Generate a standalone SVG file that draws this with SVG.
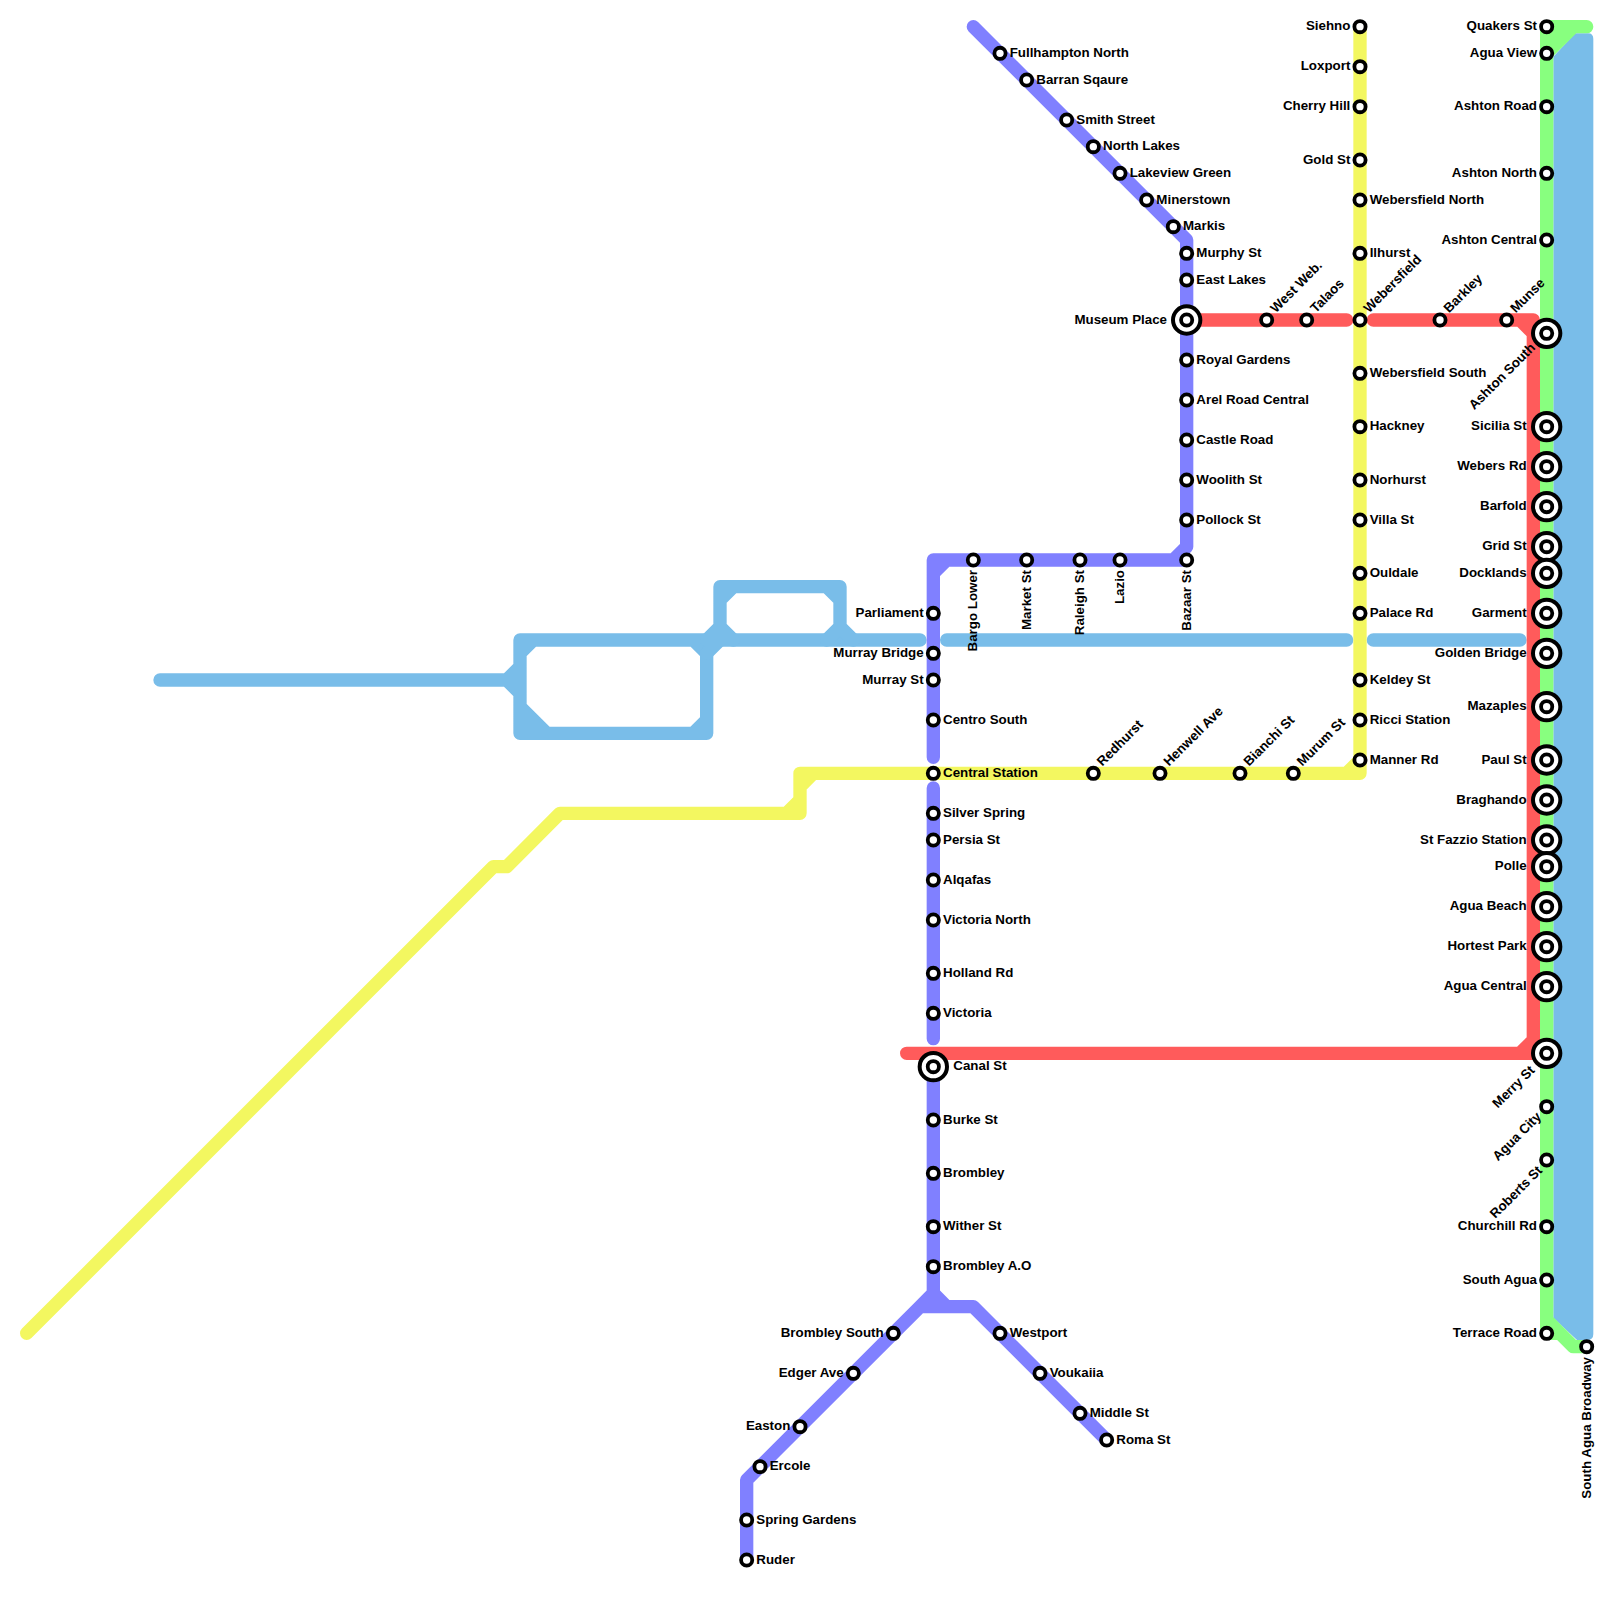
<svg xmlns="http://www.w3.org/2000/svg" width="1600" height="1600" viewBox="0 0 1600 1600">
<style>
.l{fill:none;stroke-width:13.33;stroke-linecap:round;stroke-linejoin:round}
.blue{stroke:#79bde9}.green{stroke:#88ff7f}.red{stroke:#ff5b5b}.purple{stroke:#8080ff}.yellow{stroke:#f3f760}
.s{fill:#fff;stroke:#000;stroke-width:3.8}
.x{fill:#fff;stroke:#000;stroke-width:4}
text{font-family:"Liberation Sans",Arial,sans-serif;font-weight:700;font-size:13.33px;fill:#000}
.e{text-anchor:end}
</style>
<rect width="1600" height="1600" fill="#fff"/>
<g id="connectors">
<g id="line-blue">
<path d="M1553.33 56.67L1575 33.33H1588Q1593.33 33.33 1593.33 39V1334Q1593.33 1340 1587 1340H1577L1553.33 1318Z" fill="#79bde9"/>
<path class="l blue" d="M160 680H506.67L520 666.67M506.67 680L520 693.33M520 640V733.33H706.67V640M520 640H920M520 653.33L533.33 640M693.33 640L706.67 653.33M693.33 733.33L706.67 720M520 706.67L546.67 733.33M520 720L533.33 733.33"/>
<path class="l blue" d="M706.67 640L720 626.67V586.67H840V626.67L853.33 640M720 600L733.33 586.67M826.67 586.67L840 600M720 626.67L733.33 640M706.67 653.33L720 640M826.67 640L840 626.67"/>
<path class="l blue" d="M946.67 640H1346.67M1373.33 640H1520"/>
</g>
<g id="line-green">
<path class="l green" d="M1586.67 26.67H1546.67V1333.33H1560L1573.33 1346.67H1586.67M1546.67 53.33L1573.33 26.67M1546.67 40L1560 26.67M1546.67 1320L1573.33 1346.67"/>
</g>
<g id="line-red">
<path class="l red" d="M1200 320H1346.67M1373.33 320H1533.33V1053.33H906.67M1520 320L1533.33 333.33M1520 1053.33L1533.33 1040"/>
</g>
<g id="line-purple">
<path class="l purple" d="M973.33 26.67L1186.67 240V546.67L1173.33 560H933.33V757.33M1173.33 560H1186.67M933.33 573.33L946.67 560"/>
<path class="l purple" d="M933.33 788V1038.67M933.33 1066.67V1293.33L920 1306.67L746.67 1480V1560M933.33 1293.33L946.67 1306.67H973.33L1106.67 1440M920 1306.67H946.67"/>
</g>
<g id="line-yellow">
<path class="l yellow" d="M26.67 1333.33L493.33 866.67H506.67L560 813.33H800V773.33H1360V26.67M786.67 813.33L800 800M800 786.67L813.33 773.33M1346.67 773.33L1360 760"/>
</g>
</g>
<g id="stations">
<g id="fullhampton-north"><circle class="s" cx="1000" cy="53.33" r="5.6"/><text x="1009.67" y="56.83">Fullhampton North</text></g>
<g id="barran-sqaure"><circle class="s" cx="1026.67" cy="80" r="5.6"/><text x="1036.33" y="83.5">Barran Sqaure</text></g>
<g id="smith-street"><circle class="s" cx="1066.67" cy="120" r="5.6"/><text x="1076.33" y="123.5">Smith Street</text></g>
<g id="north-lakes"><circle class="s" cx="1093.33" cy="146.67" r="5.6"/><text x="1103" y="150.17">North Lakes</text></g>
<g id="lakeview-green"><circle class="s" cx="1120" cy="173.33" r="5.6"/><text x="1129.67" y="176.83">Lakeview Green</text></g>
<g id="minerstown"><circle class="s" cx="1146.67" cy="200" r="5.6"/><text x="1156.33" y="203.5">Minerstown</text></g>
<g id="markis"><circle class="s" cx="1173.33" cy="226.67" r="5.6"/><text x="1183" y="230.17">Markis</text></g>
<g id="murphy-st"><circle class="s" cx="1186.67" cy="253.33" r="5.6"/><text x="1196.33" y="256.83">Murphy St</text></g>
<g id="east-lakes"><circle class="s" cx="1186.67" cy="280" r="5.6"/><text x="1196.33" y="283.5">East Lakes</text></g>
<g id="museum-place"><circle class="x" cx="1186.67" cy="320" r="13.67"/><circle class="s" cx="1186.67" cy="320" r="5.6"/><text class="e" x="1167" y="323.5">Museum Place</text></g>
<g id="royal-gardens"><circle class="s" cx="1186.67" cy="360" r="5.6"/><text x="1196.33" y="363.5">Royal Gardens</text></g>
<g id="arel-road-central"><circle class="s" cx="1186.67" cy="400" r="5.6"/><text x="1196.33" y="403.5">Arel Road Central</text></g>
<g id="castle-road"><circle class="s" cx="1186.67" cy="440" r="5.6"/><text x="1196.33" y="443.5">Castle Road</text></g>
<g id="woolith-st"><circle class="s" cx="1186.67" cy="480" r="5.6"/><text x="1196.33" y="483.5">Woolith St</text></g>
<g id="pollock-st"><circle class="s" cx="1186.67" cy="520" r="5.6"/><text x="1196.33" y="523.5">Pollock St</text></g>
<g id="bazaar-st"><circle class="s" cx="1186.67" cy="560" r="5.6"/><text class="e" transform="translate(1190.67 570) rotate(-90)">Bazaar St</text></g>
<g id="lazio"><circle class="s" cx="1120" cy="560" r="5.6"/><text class="e" transform="translate(1124 570) rotate(-90)">Lazio</text></g>
<g id="raleigh-st"><circle class="s" cx="1080" cy="560" r="5.6"/><text class="e" transform="translate(1084 570) rotate(-90)">Raleigh St</text></g>
<g id="market-st"><circle class="s" cx="1026.67" cy="560" r="5.6"/><text class="e" transform="translate(1030.67 570) rotate(-90)">Market St</text></g>
<g id="bargo-lower"><circle class="s" cx="973.33" cy="560" r="5.6"/><text class="e" transform="translate(977.33 570) rotate(-90)">Bargo Lower</text></g>
<g id="parliament"><circle class="s" cx="933.33" cy="613.33" r="5.6"/><text class="e" x="923.67" y="616.83">Parliament</text></g>
<g id="murray-bridge"><circle class="s" cx="933.33" cy="653.33" r="5.6"/><text class="e" x="923.67" y="656.83">Murray Bridge</text></g>
<g id="murray-st"><circle class="s" cx="933.33" cy="680" r="5.6"/><text class="e" x="923.67" y="683.5">Murray St</text></g>
<g id="centro-south"><circle class="s" cx="933.33" cy="720" r="5.6"/><text x="943" y="723.5">Centro South</text></g>
<g id="central-station"><circle class="s" cx="933.33" cy="773.33" r="5.6"/><text x="943" y="776.83">Central Station</text></g>
<g id="silver-spring"><circle class="s" cx="933.33" cy="813.33" r="5.6"/><text x="943" y="816.83">Silver Spring</text></g>
<g id="persia-st"><circle class="s" cx="933.33" cy="840" r="5.6"/><text x="943" y="843.5">Persia St</text></g>
<g id="alqafas"><circle class="s" cx="933.33" cy="880" r="5.6"/><text x="943" y="883.5">Alqafas</text></g>
<g id="victoria-north"><circle class="s" cx="933.33" cy="920" r="5.6"/><text x="943" y="923.5">Victoria North</text></g>
<g id="holland-rd"><circle class="s" cx="933.33" cy="973.33" r="5.6"/><text x="943" y="976.83">Holland Rd</text></g>
<g id="victoria"><circle class="s" cx="933.33" cy="1013.33" r="5.6"/><text x="943" y="1016.83">Victoria</text></g>
<g id="canal-st"><circle class="x" cx="933.33" cy="1066.67" r="13.67"/><circle class="s" cx="933.33" cy="1066.67" r="5.6"/><text x="953.33" y="1070.17">Canal St</text></g>
<g id="burke-st"><circle class="s" cx="933.33" cy="1120" r="5.6"/><text x="943" y="1123.5">Burke St</text></g>
<g id="brombley"><circle class="s" cx="933.33" cy="1173.33" r="5.6"/><text x="943" y="1176.83">Brombley</text></g>
<g id="wither-st"><circle class="s" cx="933.33" cy="1226.67" r="5.6"/><text x="943" y="1230.17">Wither St</text></g>
<g id="brombley-ao"><circle class="s" cx="933.33" cy="1266.67" r="5.6"/><text x="943" y="1270.17">Brombley A.O</text></g>
<g id="brombley-south"><circle class="s" cx="893.33" cy="1333.33" r="5.6"/><text class="e" x="883.67" y="1336.83">Brombley South</text></g>
<g id="edger-ave"><circle class="s" cx="853.33" cy="1373.33" r="5.6"/><text class="e" x="843.67" y="1376.83">Edger Ave</text></g>
<g id="easton"><circle class="s" cx="800" cy="1426.67" r="5.6"/><text class="e" x="790.33" y="1430.17">Easton</text></g>
<g id="ercole"><circle class="s" cx="760" cy="1466.67" r="5.6"/><text x="769.67" y="1470.17">Ercole</text></g>
<g id="spring-gardens"><circle class="s" cx="746.67" cy="1520" r="5.6"/><text x="756.33" y="1523.5">Spring Gardens</text></g>
<g id="ruder"><circle class="s" cx="746.67" cy="1560" r="5.6"/><text x="756.33" y="1563.5">Ruder</text></g>
<g id="westport"><circle class="s" cx="1000" cy="1333.33" r="5.6"/><text x="1009.67" y="1336.83">Westport</text></g>
<g id="voukaiia"><circle class="s" cx="1040" cy="1373.33" r="5.6"/><text x="1049.67" y="1376.83">Voukaiia</text></g>
<g id="middle-st"><circle class="s" cx="1080" cy="1413.33" r="5.6"/><text x="1089.67" y="1416.83">Middle St</text></g>
<g id="roma-st"><circle class="s" cx="1106.67" cy="1440" r="5.6"/><text x="1116.33" y="1443.5">Roma St</text></g>
<g id="redhurst"><circle class="s" cx="1093.33" cy="773.33" r="5.6"/><text transform="translate(1102.33 766.83) rotate(-45)">Redhurst</text></g>
<g id="henwell-ave"><circle class="s" cx="1160" cy="773.33" r="5.6"/><text transform="translate(1169 766.83) rotate(-45)">Henwell Ave</text></g>
<g id="bianchi-st"><circle class="s" cx="1240" cy="773.33" r="5.6"/><text transform="translate(1249 766.83) rotate(-45)">Bianchi St</text></g>
<g id="murum-st"><circle class="s" cx="1293.33" cy="773.33" r="5.6"/><text transform="translate(1302.33 766.83) rotate(-45)">Murum St</text></g>
<g id="west-web"><circle class="s" cx="1266.67" cy="320" r="5.6"/><text transform="translate(1275.67 313.5) rotate(-45)">West Web.</text></g>
<g id="talaos"><circle class="s" cx="1306.67" cy="320" r="5.6"/><text transform="translate(1315.67 313.5) rotate(-45)">Talaos</text></g>
<g id="webersfield"><circle class="s" cx="1360" cy="320" r="5.6"/><text transform="translate(1369 313.5) rotate(-45)">Webersfield</text></g>
<g id="barkley"><circle class="s" cx="1440" cy="320" r="5.6"/><text transform="translate(1449 313.5) rotate(-45)">Barkley</text></g>
<g id="munse"><circle class="s" cx="1506.67" cy="320" r="5.6"/><text transform="translate(1515.67 313.5) rotate(-45)">Munse</text></g>
<g id="siehno"><circle class="s" cx="1360" cy="26.67" r="5.6"/><text class="e" x="1350.33" y="30.17">Siehno</text></g>
<g id="loxport"><circle class="s" cx="1360" cy="66.67" r="5.6"/><text class="e" x="1350.33" y="70.17">Loxport</text></g>
<g id="cherry-hill"><circle class="s" cx="1360" cy="106.67" r="5.6"/><text class="e" x="1350.33" y="110.17">Cherry Hill</text></g>
<g id="gold-st"><circle class="s" cx="1360" cy="160" r="5.6"/><text class="e" x="1350.33" y="163.5">Gold St</text></g>
<g id="webersfield-north"><circle class="s" cx="1360" cy="200" r="5.6"/><text x="1369.67" y="203.5">Webersfield North</text></g>
<g id="ilhurst"><circle class="s" cx="1360" cy="253.33" r="5.6"/><text x="1369.67" y="256.83">Ilhurst</text></g>
<g id="webersfield-south"><circle class="s" cx="1360" cy="373.33" r="5.6"/><text x="1369.67" y="376.83">Webersfield South</text></g>
<g id="hackney"><circle class="s" cx="1360" cy="426.67" r="5.6"/><text x="1369.67" y="430.17">Hackney</text></g>
<g id="norhurst"><circle class="s" cx="1360" cy="480" r="5.6"/><text x="1369.67" y="483.5">Norhurst</text></g>
<g id="villa-st"><circle class="s" cx="1360" cy="520" r="5.6"/><text x="1369.67" y="523.5">Villa St</text></g>
<g id="ouldale"><circle class="s" cx="1360" cy="573.33" r="5.6"/><text x="1369.67" y="576.83">Ouldale</text></g>
<g id="palace-rd"><circle class="s" cx="1360" cy="613.33" r="5.6"/><text x="1369.67" y="616.83">Palace Rd</text></g>
<g id="keldey-st"><circle class="s" cx="1360" cy="680" r="5.6"/><text x="1369.67" y="683.5">Keldey St</text></g>
<g id="ricci-station"><circle class="s" cx="1360" cy="720" r="5.6"/><text x="1369.67" y="723.5">Ricci Station</text></g>
<g id="manner-rd"><circle class="s" cx="1360" cy="760" r="5.6"/><text x="1369.67" y="763.5">Manner Rd</text></g>
<g id="quakers-st"><circle class="s" cx="1546.67" cy="26.67" r="5.6"/><text class="e" x="1537" y="30.17">Quakers St</text></g>
<g id="agua-view"><circle class="s" cx="1546.67" cy="53.33" r="5.6"/><text class="e" x="1537" y="56.83">Agua View</text></g>
<g id="ashton-road"><circle class="s" cx="1546.67" cy="106.67" r="5.6"/><text class="e" x="1537" y="110.17">Ashton Road</text></g>
<g id="ashton-north"><circle class="s" cx="1546.67" cy="173.33" r="5.6"/><text class="e" x="1537" y="176.83">Ashton North</text></g>
<g id="ashton-central"><circle class="s" cx="1546.67" cy="240" r="5.6"/><text class="e" x="1537" y="243.5">Ashton Central</text></g>
<g id="ashton-south"><circle class="x" cx="1546.67" cy="333.33" r="13.67"/><circle class="s" cx="1546.67" cy="333.33" r="5.6"/><text class="e" transform="translate(1536 348.5) rotate(-45)">Ashton South</text></g>
<g id="sicilia-st"><circle class="x" cx="1546.67" cy="426.67" r="13.67"/><circle class="s" cx="1546.67" cy="426.67" r="5.6"/><text class="e" x="1526.67" y="430.17">Sicilia St</text></g>
<g id="webers-rd"><circle class="x" cx="1546.67" cy="466.67" r="13.67"/><circle class="s" cx="1546.67" cy="466.67" r="5.6"/><text class="e" x="1526.67" y="470.17">Webers Rd</text></g>
<g id="barfold"><circle class="x" cx="1546.67" cy="506.67" r="13.67"/><circle class="s" cx="1546.67" cy="506.67" r="5.6"/><text class="e" x="1526.67" y="510.17">Barfold</text></g>
<g id="grid-st"><circle class="x" cx="1546.67" cy="546.67" r="13.67"/><circle class="s" cx="1546.67" cy="546.67" r="5.6"/><text class="e" x="1526.67" y="550.17">Grid St</text></g>
<g id="docklands"><circle class="x" cx="1546.67" cy="573.33" r="13.67"/><circle class="s" cx="1546.67" cy="573.33" r="5.6"/><text class="e" x="1526.67" y="576.83">Docklands</text></g>
<g id="garment"><circle class="x" cx="1546.67" cy="613.33" r="13.67"/><circle class="s" cx="1546.67" cy="613.33" r="5.6"/><text class="e" x="1526.67" y="616.83">Garment</text></g>
<g id="golden-bridge"><circle class="x" cx="1546.67" cy="653.33" r="13.67"/><circle class="s" cx="1546.67" cy="653.33" r="5.6"/><text class="e" x="1526.67" y="656.83">Golden Bridge</text></g>
<g id="mazaples"><circle class="x" cx="1546.67" cy="706.67" r="13.67"/><circle class="s" cx="1546.67" cy="706.67" r="5.6"/><text class="e" x="1526.67" y="710.17">Mazaples</text></g>
<g id="paul-st"><circle class="x" cx="1546.67" cy="760" r="13.67"/><circle class="s" cx="1546.67" cy="760" r="5.6"/><text class="e" x="1526.67" y="763.5">Paul St</text></g>
<g id="braghando"><circle class="x" cx="1546.67" cy="800" r="13.67"/><circle class="s" cx="1546.67" cy="800" r="5.6"/><text class="e" x="1526.67" y="803.5">Braghando</text></g>
<g id="st-fazzio-station"><circle class="x" cx="1546.67" cy="840" r="13.67"/><circle class="s" cx="1546.67" cy="840" r="5.6"/><text class="e" x="1526.67" y="843.5">St Fazzio Station</text></g>
<g id="polle"><circle class="x" cx="1546.67" cy="866.67" r="13.67"/><circle class="s" cx="1546.67" cy="866.67" r="5.6"/><text class="e" x="1526.67" y="870.17">Polle</text></g>
<g id="agua-beach"><circle class="x" cx="1546.67" cy="906.67" r="13.67"/><circle class="s" cx="1546.67" cy="906.67" r="5.6"/><text class="e" x="1526.67" y="910.17">Agua Beach</text></g>
<g id="hortest-park"><circle class="x" cx="1546.67" cy="946.67" r="13.67"/><circle class="s" cx="1546.67" cy="946.67" r="5.6"/><text class="e" x="1526.67" y="950.17">Hortest Park</text></g>
<g id="agua-central"><circle class="x" cx="1546.67" cy="986.67" r="13.67"/><circle class="s" cx="1546.67" cy="986.67" r="5.6"/><text class="e" x="1526.67" y="990.17">Agua Central</text></g>
<g id="merry-st"><circle class="x" cx="1546.67" cy="1053.33" r="13.67"/><circle class="s" cx="1546.67" cy="1053.33" r="5.6"/><text class="e" transform="translate(1535.5 1071) rotate(-45)">Merry St</text></g>
<g id="agua-city"><circle class="s" cx="1546.67" cy="1106.67" r="5.6"/><text class="e" transform="translate(1542 1117.5) rotate(-45)">Agua City</text></g>
<g id="roberts-st"><circle class="s" cx="1546.67" cy="1160" r="5.6"/><text class="e" transform="translate(1543 1171.33) rotate(-45)">Roberts St</text></g>
<g id="churchill-rd"><circle class="s" cx="1546.67" cy="1226.67" r="5.6"/><text class="e" x="1537" y="1230.17">Churchill Rd</text></g>
<g id="south-agua"><circle class="s" cx="1546.67" cy="1280" r="5.6"/><text class="e" x="1537" y="1283.5">South Agua</text></g>
<g id="terrace-road"><circle class="s" cx="1546.67" cy="1333.33" r="5.6"/><text class="e" x="1537" y="1336.83">Terrace Road</text></g>
<g id="south-agua-broadway"><circle class="s" cx="1586.67" cy="1346.67" r="5.6"/><text class="e" transform="translate(1590.67 1357) rotate(-90)">South Agua Broadway</text></g>
</g>
</svg>
